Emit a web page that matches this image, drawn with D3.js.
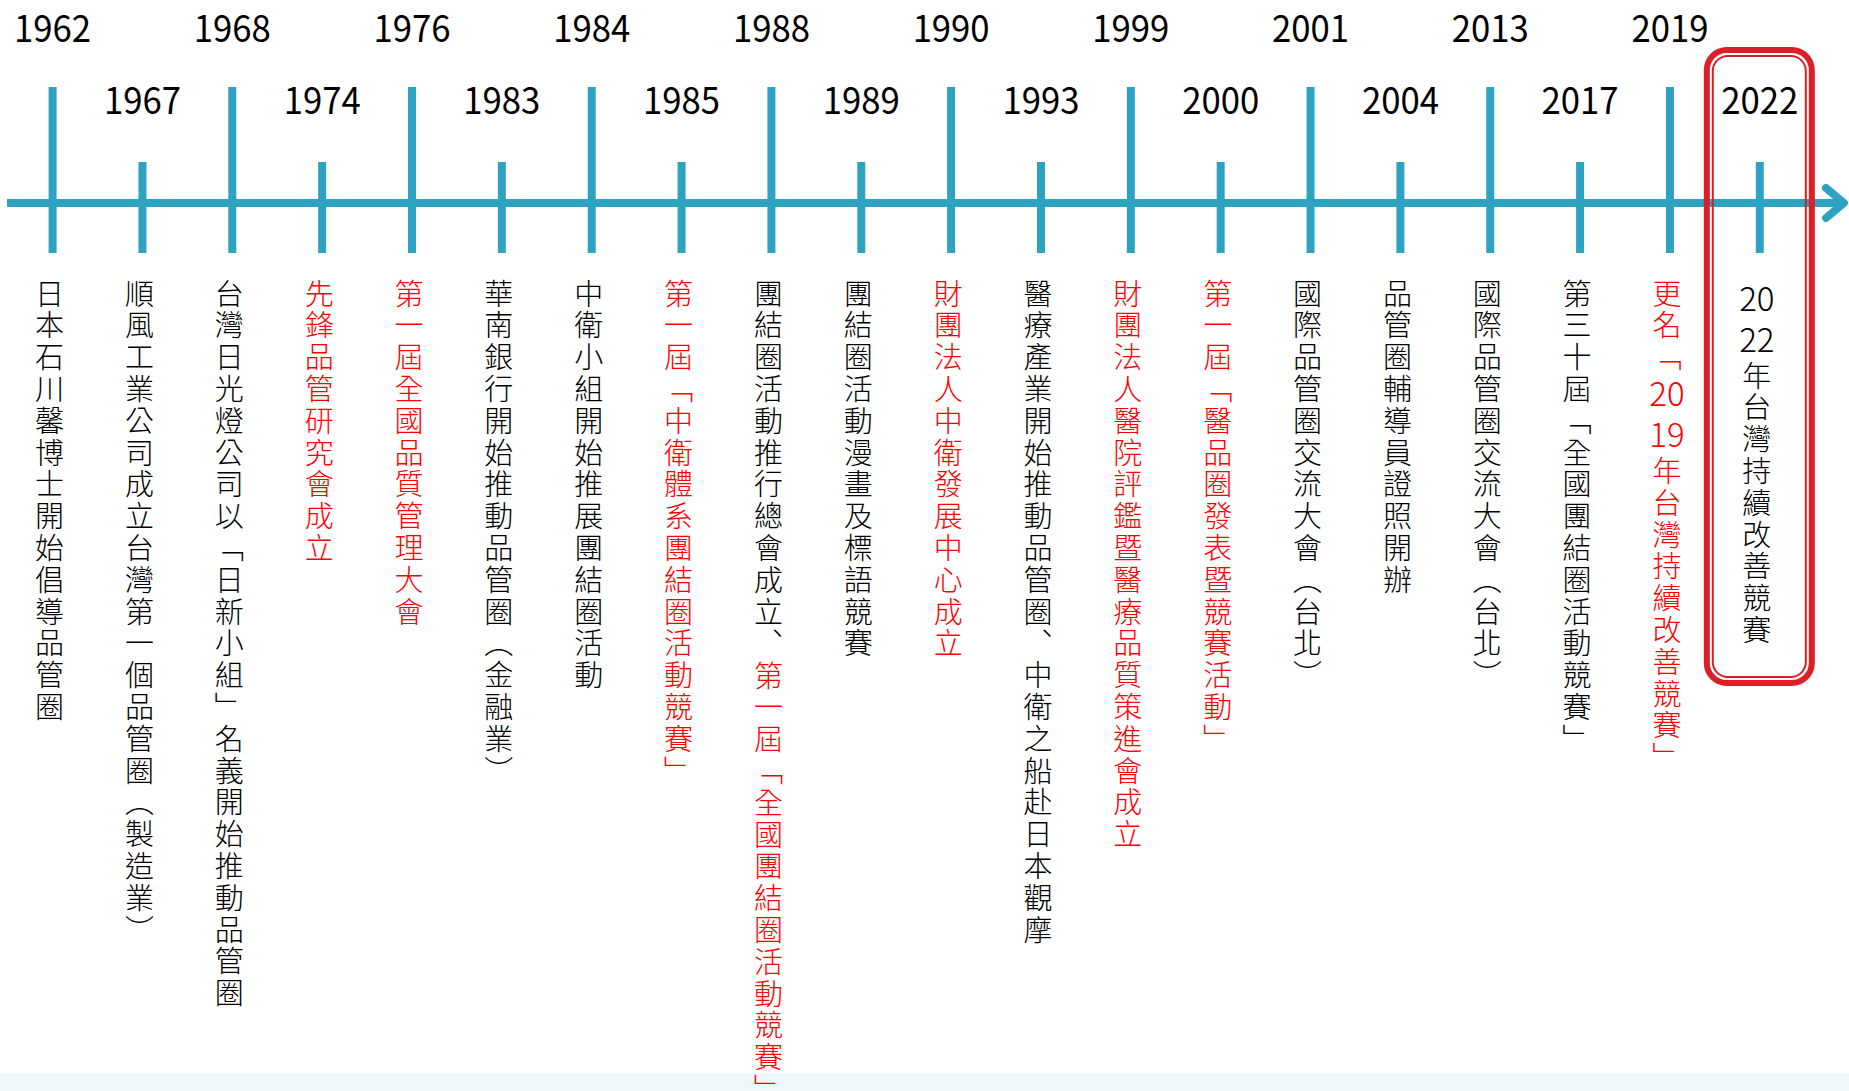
<!DOCTYPE html>
<html lang="zh-Hant">
<head>
<meta charset="UTF-8">
<title>品管圈發展歷程</title>
<script src="https://d3js.org/d3.v7.min.js"></script>
<style>
  body { margin: 0; background: #fff; }
  svg { display: block; }
  .vert { writing-mode: vertical-rl; text-orientation: upright; }
</style>
</head>
<body>
<script>
// 年份（上下交錯）
const years = ["1962", "1967", "1968", "1974", "1976", "1983", "1984", "1985", "1988", "1989",
               "1990", "1993", "1999", "2000", "2001", "2004", "2013", "2017", "2019", "2022"];

// 每個年份的事件文字
const events = [
  "日本石川馨博士開始倡導品管圈",
  "順風工業公司成立台灣第一個品管圈（製造業）",
  "台灣日光燈公司以「日新小組」名義開始推動品管圈",
  "先鋒品管研究會成立",
  "第一屆全國品質管理大會",
  "華南銀行開始推動品管圈（金融業）",
  "中衛小組開始推展團結圈活動",
  "第一屆「中衛體系團結圈活動競賽」",
  "團結圈活動推行總會成立、第一屆「全國團結圈活動競賽」",
  "團結圈活動漫畫及標語競賽",
  "財團法人中衛發展中心成立",
  "醫療產業開始推動品管圈、中衛之船赴日本觀摩",
  "財團法人醫院評鑑暨醫療品質策進會成立",
  "第一屆「醫品圈發表暨競賽活動」",
  "國際品管圈交流大會（台北）",
  "品管圈輔導員證照開辦",
  "國際品管圈交流大會（台北）",
  "第三十屆「全國團結圈活動競賽」",
  "更名「2019年台灣持續改善競賽」",
  "2022年台灣持續改善競賽"
];

// 紅字從第幾個字開始（null = 全黑）
const redFrom = [null, null, null, 0, 0, null, null, 0, 12, null,
                 0, null, 0, 0, null, null, null, null, 0, null];

const highlightYear = "2022";

const width = 1849, height = 1091;
const teal = "#2ea3c1";
const red = "#ff0000";
const boxRed = "#dc1f26";
const cjk = "'Noto Sans CJK TC', 'Noto Sans CJK SC', sans-serif";

const svg = d3.select("body").append("svg")
    .attr("width", width)
    .attr("height", height);

// 底部淡色帶
svg.append("rect")
    .attr("x", 0).attr("y", 1073)
    .attr("width", width).attr("height", 18)
    .attr("fill", "#eef7fa");

const x = d3.scalePoint().domain(years).range([52.6, 1759.8]);
const axisY = 203;

// 主軸
svg.append("line")
    .attr("x1", 7).attr("x2", 1842)
    .attr("y1", axisY).attr("y2", axisY)
    .attr("stroke", teal).attr("stroke-width", 8);

svg.append("path")
    .attr("d", `M1826,${axisY - 15}L1844,${axisY}L1826,${axisY + 15}`)
    .attr("fill", "none")
    .attr("stroke", teal).attr("stroke-width", 8)
    .attr("stroke-linecap", "round").attr("stroke-linejoin", "round");

// 刻度（長短交錯）
svg.append("g").selectAll("line")
    .data(years)
    .join("line")
    .attr("x1", d => x(d)).attr("x2", d => x(d))
    .attr("y1", (d, i) => i % 2 === 0 ? 87 : 162)
    .attr("y2", 253)
    .attr("stroke", teal).attr("stroke-width", 8);

// 年份標籤
svg.append("g").selectAll("text")
    .data(years)
    .join("text")
    .attr("x", d => x(d))
    .attr("y", (d, i) => i % 2 === 0 ? 42 : 114)
    .attr("text-anchor", "middle")
    .attr("font-family", cjk)
    .attr("font-size", 37)
    .attr("textLength", 77)
    .attr("lengthAdjust", "spacingAndGlyphs")
    .attr("fill", "#000")
    .text(d => d);

// 2022 紅框（雙線）
const bx = x(highlightYear);
svg.append("rect")
    .attr("x", bx - 53).attr("y", 50)
    .attr("width", 105).attr("height", 633)
    .attr("rx", 20)
    .attr("fill", "none").attr("stroke", boxRed).attr("stroke-width", 6);
svg.append("rect")
    .attr("x", bx - 47).attr("y", 56)
    .attr("width", 93).attr("height", 621)
    .attr("rx", 15)
    .attr("fill", "none").attr("stroke", boxRed).attr("stroke-width", 2);

// 直書文字：中文連成一段直排，兩位數字另起一格橫排
const vertForm = { "「": "﹁", "」": "﹂", "（": "︵", "）": "︶", "、": "︑" };
const cjkSize = 29, cjkStep = 31.8, digitStep = 41, startY = 277.6;

function layout(text, rf) {
    const runs = [];
    let pos = 0, y = startY, cur = null;
    for (const t of text.match(/\d{2}|./gu)) {
        const isRed = rf !== null && pos >= rf;
        if (/\d/.test(t)) {
            runs.push({ digits: true, y: y + 19, parts: [{ t, red: isRed }] });
            cur = null;
            y += digitStep;
        } else {
            if (!cur) {
                cur = { digits: false, y: y + (cjkStep - cjkSize) / 2, parts: [] };
                runs.push(cur);
            }
            const last = cur.parts[cur.parts.length - 1];
            const ch = vertForm[t] || t;
            if (last && last.red === isRed) last.t += ch;
            else cur.parts.push({ t: ch, red: isRed });
            y += cjkStep;
        }
        pos += t.length;
    }
    return runs;
}

const cols = svg.append("g").selectAll("g")
    .data(years)
    .join("g")
    .attr("transform", d => `translate(${x(d) - 3},0)`);

const runs = cols.selectAll("text")
    .data((d, i) => layout(events[i], redFrom[i]))
    .join("text")
    .attr("class", d => d.digits ? null : "vert")
    .attr("x", 0)
    .attr("y", d => d.y)
    .attr("text-anchor", d => d.digits ? "middle" : "start")
    .attr("dominant-baseline", d => d.digits ? "central" : null)
    .attr("font-family", cjk)
    .attr("font-weight", 300)
    .attr("font-size", d => d.digits ? 33 : cjkSize)
    .attr("letter-spacing", d => d.digits ? null : cjkStep - cjkSize);

runs.selectAll("tspan")
    .data(d => d.parts)
    .join("tspan")
    .attr("fill", d => d.red ? red : "#000")
    .text(d => d.t);
</script>
</body>
</html>
